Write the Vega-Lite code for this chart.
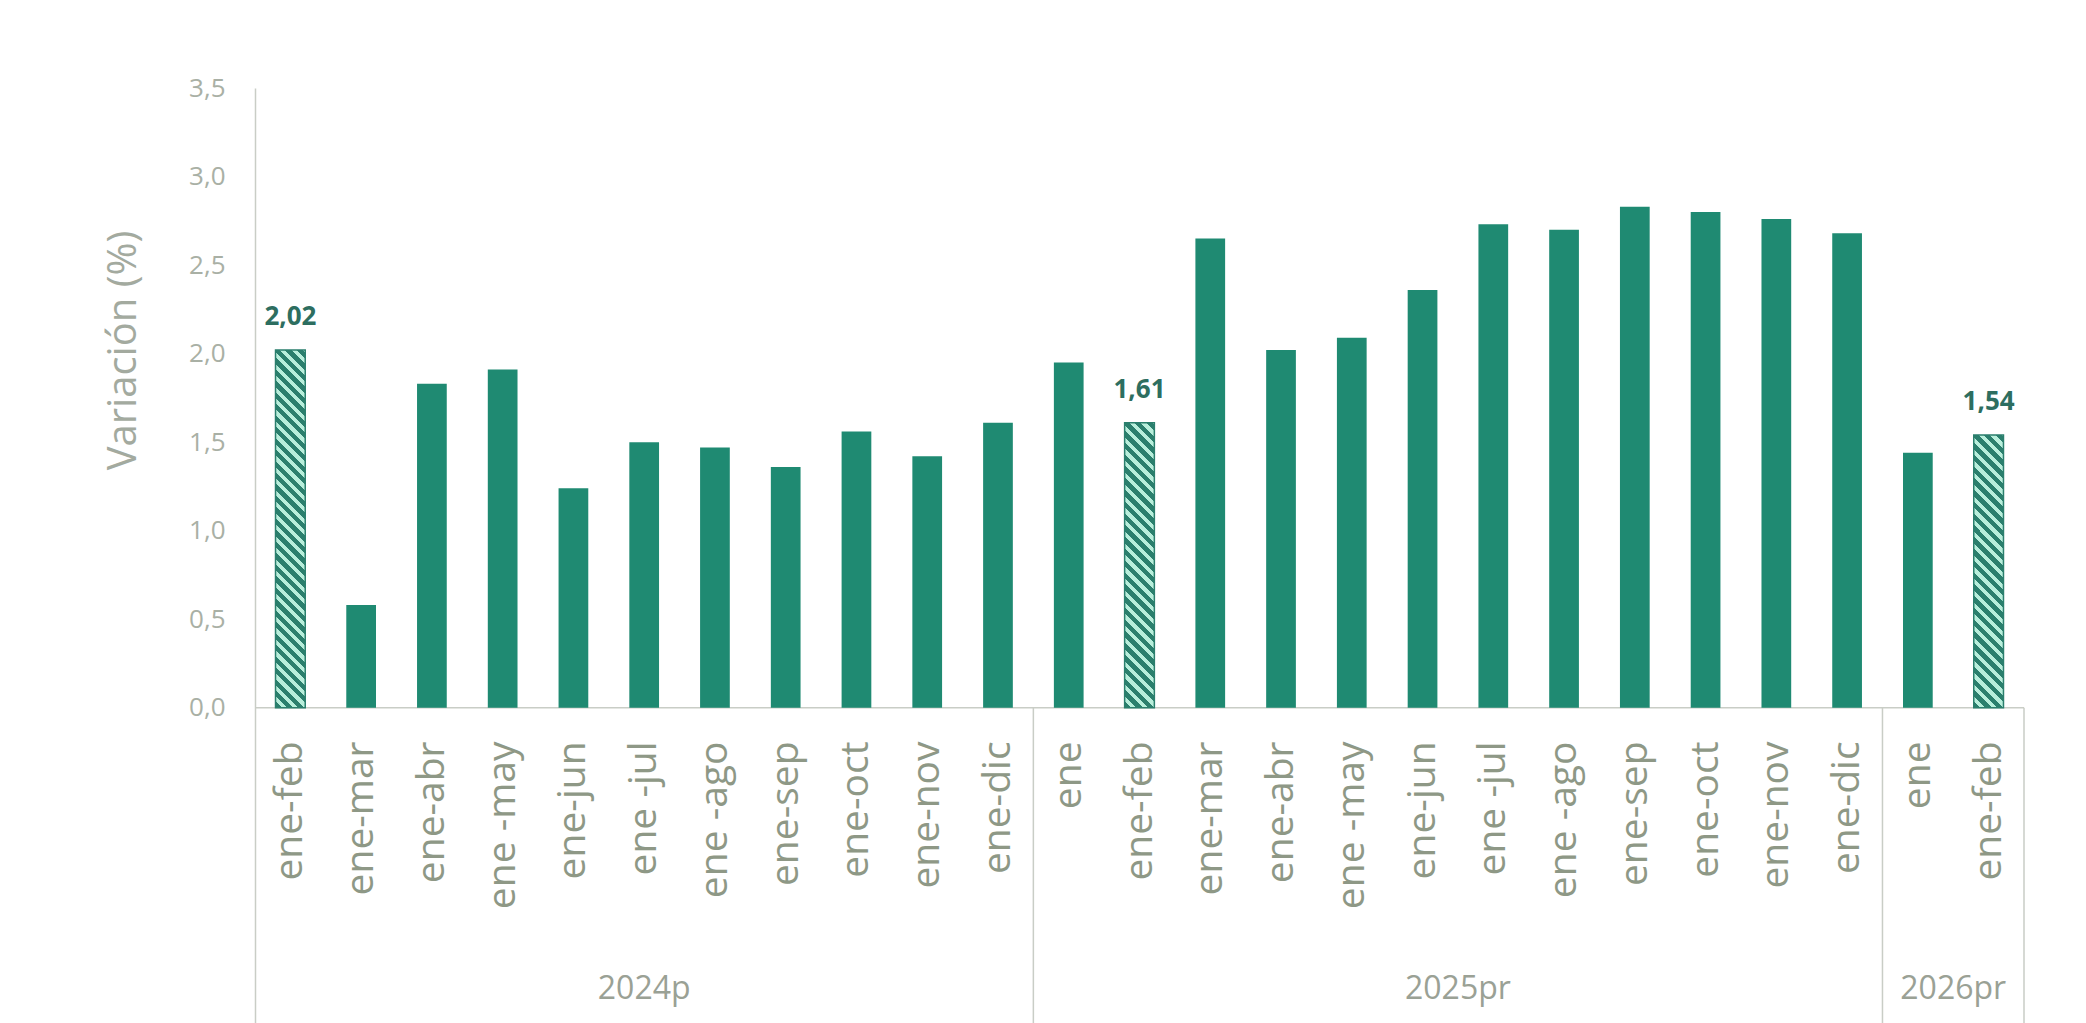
{
  "$schema": "https://vega.github.io/schema/vega-lite/v6.json",
  "width": 1769,
  "height": 935,
  "autosize": {"type": "none"},
  "padding": {"left": 255, "top": 88, "right": 62, "bottom": 0},
  "background": "white",
  "config": {
    "view": {"stroke": null},
    "font": "Open Sans",
    "locale": {"number": {"decimal": ",", "thousands": ".", "grouping": [3], "currency": ["", " €"]}}
  },
  "datasets": {
    "barras": [
      {"key": "2024p|ene-feb", "grupo": "2024p", "mes": "ene-feb", "valor": 2.02, "tipo": "destacado"},
      {"key": "2024p|ene-mar", "grupo": "2024p", "mes": "ene-mar", "valor": 0.58, "tipo": "normal"},
      {"key": "2024p|ene-abr", "grupo": "2024p", "mes": "ene-abr", "valor": 1.83, "tipo": "normal"},
      {"key": "2024p|ene -may", "grupo": "2024p", "mes": "ene -may", "valor": 1.91, "tipo": "normal"},
      {"key": "2024p|ene-jun", "grupo": "2024p", "mes": "ene-jun", "valor": 1.24, "tipo": "normal"},
      {"key": "2024p|ene -jul", "grupo": "2024p", "mes": "ene -jul", "valor": 1.50, "tipo": "normal"},
      {"key": "2024p|ene -ago", "grupo": "2024p", "mes": "ene -ago", "valor": 1.47, "tipo": "normal"},
      {"key": "2024p|ene-sep", "grupo": "2024p", "mes": "ene-sep", "valor": 1.36, "tipo": "normal"},
      {"key": "2024p|ene-oct", "grupo": "2024p", "mes": "ene-oct", "valor": 1.56, "tipo": "normal"},
      {"key": "2024p|ene-nov", "grupo": "2024p", "mes": "ene-nov", "valor": 1.42, "tipo": "normal"},
      {"key": "2024p|ene-dic", "grupo": "2024p", "mes": "ene-dic", "valor": 1.61, "tipo": "normal"},
      {"key": "2025pr|ene", "grupo": "2025pr", "mes": "ene", "valor": 1.95, "tipo": "normal"},
      {"key": "2025pr|ene-feb", "grupo": "2025pr", "mes": "ene-feb", "valor": 1.61, "tipo": "destacado"},
      {"key": "2025pr|ene-mar", "grupo": "2025pr", "mes": "ene-mar", "valor": 2.65, "tipo": "normal"},
      {"key": "2025pr|ene-abr", "grupo": "2025pr", "mes": "ene-abr", "valor": 2.02, "tipo": "normal"},
      {"key": "2025pr|ene -may", "grupo": "2025pr", "mes": "ene -may", "valor": 2.09, "tipo": "normal"},
      {"key": "2025pr|ene-jun", "grupo": "2025pr", "mes": "ene-jun", "valor": 2.36, "tipo": "normal"},
      {"key": "2025pr|ene -jul", "grupo": "2025pr", "mes": "ene -jul", "valor": 2.73, "tipo": "normal"},
      {"key": "2025pr|ene -ago", "grupo": "2025pr", "mes": "ene -ago", "valor": 2.70, "tipo": "normal"},
      {"key": "2025pr|ene-sep", "grupo": "2025pr", "mes": "ene-sep", "valor": 2.83, "tipo": "normal"},
      {"key": "2025pr|ene-oct", "grupo": "2025pr", "mes": "ene-oct", "valor": 2.80, "tipo": "normal"},
      {"key": "2025pr|ene-nov", "grupo": "2025pr", "mes": "ene-nov", "valor": 2.76, "tipo": "normal"},
      {"key": "2025pr|ene-dic", "grupo": "2025pr", "mes": "ene-dic", "valor": 2.68, "tipo": "normal"},
      {"key": "2026pr|ene", "grupo": "2026pr", "mes": "ene", "valor": 1.44, "tipo": "normal"},
      {"key": "2026pr|ene-feb", "grupo": "2026pr", "mes": "ene-feb", "valor": 1.54, "tipo": "destacado"}
    ]
  },
  "data": {"name": "barras"},
  "layer": [
    {
      "data": {"values": [{}]},
      "mark": {"type": "rule", "color": "#c9cdc6", "strokeWidth": 1.5},
      "encoding": {"y": {"datum": 0}}
    },
    {
      "encoding": {
        "x": {
          "field": "key", "type": "nominal",
          "scale": {"domain": ["2024p|ene-feb","2024p|ene-mar","2024p|ene-abr","2024p|ene -may","2024p|ene-jun","2024p|ene -jul","2024p|ene -ago","2024p|ene-sep","2024p|ene-oct","2024p|ene-nov","2024p|ene-dic","2025pr|ene","2025pr|ene-feb","2025pr|ene-mar","2025pr|ene-abr","2025pr|ene -may","2025pr|ene-jun","2025pr|ene -jul","2025pr|ene -ago","2025pr|ene-sep","2025pr|ene-oct","2025pr|ene-nov","2025pr|ene-dic","2026pr|ene","2026pr|ene-feb"], "paddingInner": 0, "paddingOuter": 0},
          "axis": null
        },
        "y": {
          "field": "valor", "type": "quantitative",
          "scale": {"domain": [-1.78, 3.5], "nice": false, "zero": false},
          "axis": {
            "title": "Variación (%)",
            "values": [0, 0.5, 1, 1.5, 2, 2.5, 3, 3.5],
            "format": ".1f",
            "ticks": false, "grid": false,
            "domainColor": "#c9cdc6", "domainWidth": 1.5,
            "labelFont": "Open Sans", "labelFontSize": 26, "labelColor": "#a9b0a5", "labelPadding": 30,
            "titleFont": "Open Sans", "titleFontSize": 40, "titleFontWeight": "normal", "titleColor": "#a3aa9f", "titlePadding": 45,
            "titleY": 262
          }
        }
      },
      "layer": [
        {
          "transform": [{"filter": "datum.tipo === 'normal'"}],
          "mark": {"type": "bar", "width": {"band": 0.42}, "color": "#1f8a72"}
        },
        {
          "transform": [{"filter": "datum.key === '2024p|ene-feb'"}],
          "mark": {"type": "bar", "width": {"band": 0.42}, "stroke": "#2b7f6d", "strokeWidth": 1.5,
            "fill": {"gradient": "linear", "x1": 0, "y1": 1, "x2": 0.09, "y2": -0.083, "stops": [
              {"offset":0,"color":"#2b7f6d"},{"offset":0.0162,"color":"#2b7f6d"},{"offset":0.0162,"color":"#b8eedb"},{"offset":0.0294,"color":"#b8eedb"},
              {"offset":0.0294,"color":"#2b7f6d"},{"offset":0.0456,"color":"#2b7f6d"},{"offset":0.0456,"color":"#b8eedb"},{"offset":0.0588,"color":"#b8eedb"},
              {"offset":0.0588,"color":"#2b7f6d"},{"offset":0.075,"color":"#2b7f6d"},{"offset":0.075,"color":"#b8eedb"},{"offset":0.0882,"color":"#b8eedb"},
              {"offset":0.0882,"color":"#2b7f6d"},{"offset":0.1044,"color":"#2b7f6d"},{"offset":0.1044,"color":"#b8eedb"},{"offset":0.1176,"color":"#b8eedb"},
              {"offset":0.1176,"color":"#2b7f6d"},{"offset":0.1338,"color":"#2b7f6d"},{"offset":0.1338,"color":"#b8eedb"},{"offset":0.1471,"color":"#b8eedb"},
              {"offset":0.1471,"color":"#2b7f6d"},{"offset":0.1632,"color":"#2b7f6d"},{"offset":0.1632,"color":"#b8eedb"},{"offset":0.1765,"color":"#b8eedb"},
              {"offset":0.1765,"color":"#2b7f6d"},{"offset":0.1926,"color":"#2b7f6d"},{"offset":0.1926,"color":"#b8eedb"},{"offset":0.2059,"color":"#b8eedb"},
              {"offset":0.2059,"color":"#2b7f6d"},{"offset":0.2221,"color":"#2b7f6d"},{"offset":0.2221,"color":"#b8eedb"},{"offset":0.2353,"color":"#b8eedb"},
              {"offset":0.2353,"color":"#2b7f6d"},{"offset":0.2515,"color":"#2b7f6d"},{"offset":0.2515,"color":"#b8eedb"},{"offset":0.2647,"color":"#b8eedb"},
              {"offset":0.2647,"color":"#2b7f6d"},{"offset":0.2809,"color":"#2b7f6d"},{"offset":0.2809,"color":"#b8eedb"},{"offset":0.2941,"color":"#b8eedb"},
              {"offset":0.2941,"color":"#2b7f6d"},{"offset":0.3103,"color":"#2b7f6d"},{"offset":0.3103,"color":"#b8eedb"},{"offset":0.3235,"color":"#b8eedb"},
              {"offset":0.3235,"color":"#2b7f6d"},{"offset":0.3397,"color":"#2b7f6d"},{"offset":0.3397,"color":"#b8eedb"},{"offset":0.3529,"color":"#b8eedb"},
              {"offset":0.3529,"color":"#2b7f6d"},{"offset":0.3691,"color":"#2b7f6d"},{"offset":0.3691,"color":"#b8eedb"},{"offset":0.3824,"color":"#b8eedb"},
              {"offset":0.3824,"color":"#2b7f6d"},{"offset":0.3985,"color":"#2b7f6d"},{"offset":0.3985,"color":"#b8eedb"},{"offset":0.4118,"color":"#b8eedb"},
              {"offset":0.4118,"color":"#2b7f6d"},{"offset":0.4279,"color":"#2b7f6d"},{"offset":0.4279,"color":"#b8eedb"},{"offset":0.4412,"color":"#b8eedb"},
              {"offset":0.4412,"color":"#2b7f6d"},{"offset":0.4574,"color":"#2b7f6d"},{"offset":0.4574,"color":"#b8eedb"},{"offset":0.4706,"color":"#b8eedb"},
              {"offset":0.4706,"color":"#2b7f6d"},{"offset":0.4868,"color":"#2b7f6d"},{"offset":0.4868,"color":"#b8eedb"},{"offset":0.5,"color":"#b8eedb"},
              {"offset":0.5,"color":"#2b7f6d"},{"offset":0.5162,"color":"#2b7f6d"},{"offset":0.5162,"color":"#b8eedb"},{"offset":0.5294,"color":"#b8eedb"},
              {"offset":0.5294,"color":"#2b7f6d"},{"offset":0.5456,"color":"#2b7f6d"},{"offset":0.5456,"color":"#b8eedb"},{"offset":0.5588,"color":"#b8eedb"},
              {"offset":0.5588,"color":"#2b7f6d"},{"offset":0.575,"color":"#2b7f6d"},{"offset":0.575,"color":"#b8eedb"},{"offset":0.5882,"color":"#b8eedb"},
              {"offset":0.5882,"color":"#2b7f6d"},{"offset":0.6044,"color":"#2b7f6d"},{"offset":0.6044,"color":"#b8eedb"},{"offset":0.6176,"color":"#b8eedb"},
              {"offset":0.6176,"color":"#2b7f6d"},{"offset":0.6338,"color":"#2b7f6d"},{"offset":0.6338,"color":"#b8eedb"},{"offset":0.6471,"color":"#b8eedb"},
              {"offset":0.6471,"color":"#2b7f6d"},{"offset":0.6632,"color":"#2b7f6d"},{"offset":0.6632,"color":"#b8eedb"},{"offset":0.6765,"color":"#b8eedb"},
              {"offset":0.6765,"color":"#2b7f6d"},{"offset":0.6926,"color":"#2b7f6d"},{"offset":0.6926,"color":"#b8eedb"},{"offset":0.7059,"color":"#b8eedb"},
              {"offset":0.7059,"color":"#2b7f6d"},{"offset":0.7221,"color":"#2b7f6d"},{"offset":0.7221,"color":"#b8eedb"},{"offset":0.7353,"color":"#b8eedb"},
              {"offset":0.7353,"color":"#2b7f6d"},{"offset":0.7515,"color":"#2b7f6d"},{"offset":0.7515,"color":"#b8eedb"},{"offset":0.7647,"color":"#b8eedb"},
              {"offset":0.7647,"color":"#2b7f6d"},{"offset":0.7809,"color":"#2b7f6d"},{"offset":0.7809,"color":"#b8eedb"},{"offset":0.7941,"color":"#b8eedb"},
              {"offset":0.7941,"color":"#2b7f6d"},{"offset":0.8103,"color":"#2b7f6d"},{"offset":0.8103,"color":"#b8eedb"},{"offset":0.8235,"color":"#b8eedb"},
              {"offset":0.8235,"color":"#2b7f6d"},{"offset":0.8397,"color":"#2b7f6d"},{"offset":0.8397,"color":"#b8eedb"},{"offset":0.8529,"color":"#b8eedb"},
              {"offset":0.8529,"color":"#2b7f6d"},{"offset":0.8691,"color":"#2b7f6d"},{"offset":0.8691,"color":"#b8eedb"},{"offset":0.8824,"color":"#b8eedb"},
              {"offset":0.8824,"color":"#2b7f6d"},{"offset":0.8985,"color":"#2b7f6d"},{"offset":0.8985,"color":"#b8eedb"},{"offset":0.9118,"color":"#b8eedb"},
              {"offset":0.9118,"color":"#2b7f6d"},{"offset":0.9279,"color":"#2b7f6d"},{"offset":0.9279,"color":"#b8eedb"},{"offset":0.9412,"color":"#b8eedb"},
              {"offset":0.9412,"color":"#2b7f6d"},{"offset":0.9574,"color":"#2b7f6d"},{"offset":0.9574,"color":"#b8eedb"},{"offset":0.9706,"color":"#b8eedb"},
              {"offset":0.9706,"color":"#2b7f6d"},{"offset":0.9868,"color":"#2b7f6d"},{"offset":0.9868,"color":"#b8eedb"},{"offset":1,"color":"#b8eedb"}
            ]}
          }
        },
        {
          "transform": [{"filter": "datum.key === '2025pr|ene-feb'"}],
          "mark": {"type": "bar", "width": {"band": 0.42}, "stroke": "#2b7f6d", "strokeWidth": 1.5,
            "fill": {"gradient": "linear", "x1": 0, "y1": 1, "x2": 0.115, "y2": -0.104, "stops": [
              {"offset":0,"color":"#2b7f6d"},{"offset":0.0204,"color":"#2b7f6d"},{"offset":0.0204,"color":"#b8eedb"},{"offset":0.037,"color":"#b8eedb"},
              {"offset":0.037,"color":"#2b7f6d"},{"offset":0.0574,"color":"#2b7f6d"},{"offset":0.0574,"color":"#b8eedb"},{"offset":0.0741,"color":"#b8eedb"},
              {"offset":0.0741,"color":"#2b7f6d"},{"offset":0.0944,"color":"#2b7f6d"},{"offset":0.0944,"color":"#b8eedb"},{"offset":0.1111,"color":"#b8eedb"},
              {"offset":0.1111,"color":"#2b7f6d"},{"offset":0.1315,"color":"#2b7f6d"},{"offset":0.1315,"color":"#b8eedb"},{"offset":0.1481,"color":"#b8eedb"},
              {"offset":0.1481,"color":"#2b7f6d"},{"offset":0.1685,"color":"#2b7f6d"},{"offset":0.1685,"color":"#b8eedb"},{"offset":0.1852,"color":"#b8eedb"},
              {"offset":0.1852,"color":"#2b7f6d"},{"offset":0.2056,"color":"#2b7f6d"},{"offset":0.2056,"color":"#b8eedb"},{"offset":0.2222,"color":"#b8eedb"},
              {"offset":0.2222,"color":"#2b7f6d"},{"offset":0.2426,"color":"#2b7f6d"},{"offset":0.2426,"color":"#b8eedb"},{"offset":0.2593,"color":"#b8eedb"},
              {"offset":0.2593,"color":"#2b7f6d"},{"offset":0.2796,"color":"#2b7f6d"},{"offset":0.2796,"color":"#b8eedb"},{"offset":0.2963,"color":"#b8eedb"},
              {"offset":0.2963,"color":"#2b7f6d"},{"offset":0.3167,"color":"#2b7f6d"},{"offset":0.3167,"color":"#b8eedb"},{"offset":0.3333,"color":"#b8eedb"},
              {"offset":0.3333,"color":"#2b7f6d"},{"offset":0.3537,"color":"#2b7f6d"},{"offset":0.3537,"color":"#b8eedb"},{"offset":0.3704,"color":"#b8eedb"},
              {"offset":0.3704,"color":"#2b7f6d"},{"offset":0.3907,"color":"#2b7f6d"},{"offset":0.3907,"color":"#b8eedb"},{"offset":0.4074,"color":"#b8eedb"},
              {"offset":0.4074,"color":"#2b7f6d"},{"offset":0.4278,"color":"#2b7f6d"},{"offset":0.4278,"color":"#b8eedb"},{"offset":0.4444,"color":"#b8eedb"},
              {"offset":0.4444,"color":"#2b7f6d"},{"offset":0.4648,"color":"#2b7f6d"},{"offset":0.4648,"color":"#b8eedb"},{"offset":0.4815,"color":"#b8eedb"},
              {"offset":0.4815,"color":"#2b7f6d"},{"offset":0.5019,"color":"#2b7f6d"},{"offset":0.5019,"color":"#b8eedb"},{"offset":0.5185,"color":"#b8eedb"},
              {"offset":0.5185,"color":"#2b7f6d"},{"offset":0.5389,"color":"#2b7f6d"},{"offset":0.5389,"color":"#b8eedb"},{"offset":0.5556,"color":"#b8eedb"},
              {"offset":0.5556,"color":"#2b7f6d"},{"offset":0.5759,"color":"#2b7f6d"},{"offset":0.5759,"color":"#b8eedb"},{"offset":0.5926,"color":"#b8eedb"},
              {"offset":0.5926,"color":"#2b7f6d"},{"offset":0.613,"color":"#2b7f6d"},{"offset":0.613,"color":"#b8eedb"},{"offset":0.6296,"color":"#b8eedb"},
              {"offset":0.6296,"color":"#2b7f6d"},{"offset":0.65,"color":"#2b7f6d"},{"offset":0.65,"color":"#b8eedb"},{"offset":0.6667,"color":"#b8eedb"},
              {"offset":0.6667,"color":"#2b7f6d"},{"offset":0.687,"color":"#2b7f6d"},{"offset":0.687,"color":"#b8eedb"},{"offset":0.7037,"color":"#b8eedb"},
              {"offset":0.7037,"color":"#2b7f6d"},{"offset":0.7241,"color":"#2b7f6d"},{"offset":0.7241,"color":"#b8eedb"},{"offset":0.7407,"color":"#b8eedb"},
              {"offset":0.7407,"color":"#2b7f6d"},{"offset":0.7611,"color":"#2b7f6d"},{"offset":0.7611,"color":"#b8eedb"},{"offset":0.7778,"color":"#b8eedb"},
              {"offset":0.7778,"color":"#2b7f6d"},{"offset":0.7981,"color":"#2b7f6d"},{"offset":0.7981,"color":"#b8eedb"},{"offset":0.8148,"color":"#b8eedb"},
              {"offset":0.8148,"color":"#2b7f6d"},{"offset":0.8352,"color":"#2b7f6d"},{"offset":0.8352,"color":"#b8eedb"},{"offset":0.8519,"color":"#b8eedb"},
              {"offset":0.8519,"color":"#2b7f6d"},{"offset":0.8722,"color":"#2b7f6d"},{"offset":0.8722,"color":"#b8eedb"},{"offset":0.8889,"color":"#b8eedb"},
              {"offset":0.8889,"color":"#2b7f6d"},{"offset":0.9093,"color":"#2b7f6d"},{"offset":0.9093,"color":"#b8eedb"},{"offset":0.9259,"color":"#b8eedb"},
              {"offset":0.9259,"color":"#2b7f6d"},{"offset":0.9463,"color":"#2b7f6d"},{"offset":0.9463,"color":"#b8eedb"},{"offset":0.963,"color":"#b8eedb"},
              {"offset":0.963,"color":"#2b7f6d"},{"offset":0.9833,"color":"#2b7f6d"},{"offset":0.9833,"color":"#b8eedb"},{"offset":1,"color":"#b8eedb"}
            ]}
          }
        },
        {
          "transform": [{"filter": "datum.key === '2026pr|ene-feb'"}],
          "mark": {"type": "bar", "width": {"band": 0.42}, "stroke": "#2b7f6d", "strokeWidth": 1.5,
            "fill": {"gradient": "linear", "x1": 0, "y1": 1, "x2": 0.121, "y2": -0.109, "stops": [
              {"offset":0,"color":"#2b7f6d"},{"offset":0.0212,"color":"#2b7f6d"},{"offset":0.0212,"color":"#b8eedb"},{"offset":0.0385,"color":"#b8eedb"},
              {"offset":0.0385,"color":"#2b7f6d"},{"offset":0.0596,"color":"#2b7f6d"},{"offset":0.0596,"color":"#b8eedb"},{"offset":0.0769,"color":"#b8eedb"},
              {"offset":0.0769,"color":"#2b7f6d"},{"offset":0.0981,"color":"#2b7f6d"},{"offset":0.0981,"color":"#b8eedb"},{"offset":0.1154,"color":"#b8eedb"},
              {"offset":0.1154,"color":"#2b7f6d"},{"offset":0.1365,"color":"#2b7f6d"},{"offset":0.1365,"color":"#b8eedb"},{"offset":0.1538,"color":"#b8eedb"},
              {"offset":0.1538,"color":"#2b7f6d"},{"offset":0.175,"color":"#2b7f6d"},{"offset":0.175,"color":"#b8eedb"},{"offset":0.1923,"color":"#b8eedb"},
              {"offset":0.1923,"color":"#2b7f6d"},{"offset":0.2135,"color":"#2b7f6d"},{"offset":0.2135,"color":"#b8eedb"},{"offset":0.2308,"color":"#b8eedb"},
              {"offset":0.2308,"color":"#2b7f6d"},{"offset":0.2519,"color":"#2b7f6d"},{"offset":0.2519,"color":"#b8eedb"},{"offset":0.2692,"color":"#b8eedb"},
              {"offset":0.2692,"color":"#2b7f6d"},{"offset":0.2904,"color":"#2b7f6d"},{"offset":0.2904,"color":"#b8eedb"},{"offset":0.3077,"color":"#b8eedb"},
              {"offset":0.3077,"color":"#2b7f6d"},{"offset":0.3288,"color":"#2b7f6d"},{"offset":0.3288,"color":"#b8eedb"},{"offset":0.3462,"color":"#b8eedb"},
              {"offset":0.3462,"color":"#2b7f6d"},{"offset":0.3673,"color":"#2b7f6d"},{"offset":0.3673,"color":"#b8eedb"},{"offset":0.3846,"color":"#b8eedb"},
              {"offset":0.3846,"color":"#2b7f6d"},{"offset":0.4058,"color":"#2b7f6d"},{"offset":0.4058,"color":"#b8eedb"},{"offset":0.4231,"color":"#b8eedb"},
              {"offset":0.4231,"color":"#2b7f6d"},{"offset":0.4442,"color":"#2b7f6d"},{"offset":0.4442,"color":"#b8eedb"},{"offset":0.4615,"color":"#b8eedb"},
              {"offset":0.4615,"color":"#2b7f6d"},{"offset":0.4827,"color":"#2b7f6d"},{"offset":0.4827,"color":"#b8eedb"},{"offset":0.5,"color":"#b8eedb"},
              {"offset":0.5,"color":"#2b7f6d"},{"offset":0.5212,"color":"#2b7f6d"},{"offset":0.5212,"color":"#b8eedb"},{"offset":0.5385,"color":"#b8eedb"},
              {"offset":0.5385,"color":"#2b7f6d"},{"offset":0.5596,"color":"#2b7f6d"},{"offset":0.5596,"color":"#b8eedb"},{"offset":0.5769,"color":"#b8eedb"},
              {"offset":0.5769,"color":"#2b7f6d"},{"offset":0.5981,"color":"#2b7f6d"},{"offset":0.5981,"color":"#b8eedb"},{"offset":0.6154,"color":"#b8eedb"},
              {"offset":0.6154,"color":"#2b7f6d"},{"offset":0.6365,"color":"#2b7f6d"},{"offset":0.6365,"color":"#b8eedb"},{"offset":0.6538,"color":"#b8eedb"},
              {"offset":0.6538,"color":"#2b7f6d"},{"offset":0.675,"color":"#2b7f6d"},{"offset":0.675,"color":"#b8eedb"},{"offset":0.6923,"color":"#b8eedb"},
              {"offset":0.6923,"color":"#2b7f6d"},{"offset":0.7135,"color":"#2b7f6d"},{"offset":0.7135,"color":"#b8eedb"},{"offset":0.7308,"color":"#b8eedb"},
              {"offset":0.7308,"color":"#2b7f6d"},{"offset":0.7519,"color":"#2b7f6d"},{"offset":0.7519,"color":"#b8eedb"},{"offset":0.7692,"color":"#b8eedb"},
              {"offset":0.7692,"color":"#2b7f6d"},{"offset":0.7904,"color":"#2b7f6d"},{"offset":0.7904,"color":"#b8eedb"},{"offset":0.8077,"color":"#b8eedb"},
              {"offset":0.8077,"color":"#2b7f6d"},{"offset":0.8288,"color":"#2b7f6d"},{"offset":0.8288,"color":"#b8eedb"},{"offset":0.8462,"color":"#b8eedb"},
              {"offset":0.8462,"color":"#2b7f6d"},{"offset":0.8673,"color":"#2b7f6d"},{"offset":0.8673,"color":"#b8eedb"},{"offset":0.8846,"color":"#b8eedb"},
              {"offset":0.8846,"color":"#2b7f6d"},{"offset":0.9058,"color":"#2b7f6d"},{"offset":0.9058,"color":"#b8eedb"},{"offset":0.9231,"color":"#b8eedb"},
              {"offset":0.9231,"color":"#2b7f6d"},{"offset":0.9442,"color":"#2b7f6d"},{"offset":0.9442,"color":"#b8eedb"},{"offset":0.9615,"color":"#b8eedb"},
              {"offset":0.9615,"color":"#2b7f6d"},{"offset":0.9827,"color":"#2b7f6d"},{"offset":0.9827,"color":"#b8eedb"},{"offset":1,"color":"#b8eedb"}
            ]}
          }
        },
        {
          "transform": [{"filter": "datum.tipo === 'destacado'"}],
          "mark": {"type": "text", "baseline": "bottom", "dy": -20, "font": "Open Sans", "fontSize": 26, "fontWeight": "bold", "color": "#2d6e60"},
          "encoding": {"text": {"field": "valor", "type": "quantitative", "format": ".2f"}}
        },
        {
          "mark": {"type": "text", "angle": 270, "align": "right", "baseline": "middle", "font": "Open Sans", "fontSize": 39, "color": "#8e9886"},
          "encoding": {"y": {"datum": -0.19}, "text": {"field": "mes", "type": "nominal"}}
        }
      ]
    },
    {
      "encoding": {
        "x": {
          "field": "key", "type": "nominal", "bandPosition": 1,
          "scale": {"domain": ["2024p|ene-feb","2024p|ene-mar","2024p|ene-abr","2024p|ene -may","2024p|ene-jun","2024p|ene -jul","2024p|ene -ago","2024p|ene-sep","2024p|ene-oct","2024p|ene-nov","2024p|ene-dic","2025pr|ene","2025pr|ene-feb","2025pr|ene-mar","2025pr|ene-abr","2025pr|ene -may","2025pr|ene-jun","2025pr|ene -jul","2025pr|ene -ago","2025pr|ene-sep","2025pr|ene-oct","2025pr|ene-nov","2025pr|ene-dic","2026pr|ene","2026pr|ene-feb"], "paddingInner": 0, "paddingOuter": 0},
          "axis": null
        }
      },
      "layer": [
        {
          "data": {"values": [{"key": "2024p|ene-dic"}, {"key": "2025pr|ene-dic"}, {"key": "2026pr|ene-feb"}]},
          "mark": {"type": "rule", "color": "#c9cdc6", "strokeWidth": 1.5},
          "encoding": {"y": {"datum": 0}, "y2": {"datum": -1.78}}
        },
        {
          "data": {"values": [{"key": "2025pr|ene-jun", "etiqueta": "2025pr"}, {"key": "2026pr|ene", "etiqueta": "2026pr"}]},
          "mark": {"type": "text", "align": "center", "baseline": "middle", "font": "Open Sans", "fontSize": 32, "color": "#9aa195"},
          "encoding": {"y": {"datum": -1.59}, "text": {"field": "etiqueta", "type": "nominal"}}
        }
      ]
    },
    {
      "data": {"values": [{"key": "2024p|ene -jul", "etiqueta": "2024p"}]},
      "mark": {"type": "text", "align": "center", "baseline": "middle", "font": "Open Sans", "fontSize": 32, "color": "#9aa195"},
      "encoding": {
        "x": {
          "field": "key", "type": "nominal",
          "scale": {"domain": ["2024p|ene-feb","2024p|ene-mar","2024p|ene-abr","2024p|ene -may","2024p|ene-jun","2024p|ene -jul","2024p|ene -ago","2024p|ene-sep","2024p|ene-oct","2024p|ene-nov","2024p|ene-dic","2025pr|ene","2025pr|ene-feb","2025pr|ene-mar","2025pr|ene-abr","2025pr|ene -may","2025pr|ene-jun","2025pr|ene -jul","2025pr|ene -ago","2025pr|ene-sep","2025pr|ene-oct","2025pr|ene-nov","2025pr|ene-dic","2026pr|ene","2026pr|ene-feb"], "paddingInner": 0, "paddingOuter": 0},
          "axis": null
        },
        "y": {"datum": -1.59},
        "text": {"field": "etiqueta", "type": "nominal"}
      }
    }
  ]
}
